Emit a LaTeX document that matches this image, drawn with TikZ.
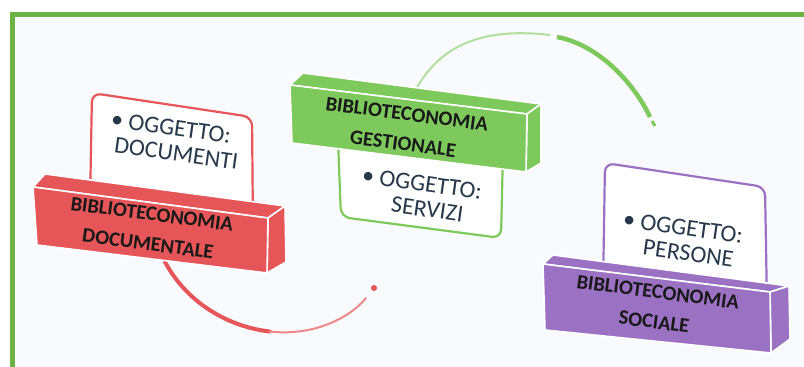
\documentclass[tikz,border=0pt]{standalone}
\usepackage{fontspec}
\setmainfont{Carlito}
\usetikzlibrary{calc}

\definecolor{frameGreen}{HTML}{6CB344}
\definecolor{paper}{HTML}{F9FAFD}
\definecolor{docRed}{HTML}{E65558}
\definecolor{gesGreen}{HTML}{7DC95C}
\definecolor{socPurple}{HTML}{9B72C3}
\definecolor{slate}{HTML}{27384A}

\tikzset{
    face/.style={fill=#1, draw=white, line width=1.6pt, line join=round},
    callout/.style={draw=#1, line width=2.2pt, fill=white, rounded corners=9pt},
    title/.style={font=\fontsize{20.5}{30}\selectfont\bfseries, text=black!90, align=center, rotate=-7.5, inner sep=0pt},
    object/.style={font=\fontsize{24}{25}\selectfont, text=slate, align=center, rotate=-8, inner sep=0pt}
}

\begin{document}
\begin{tikzpicture}[x=1pt, y=-1pt]
    \useasboundingbox (0,0) rectangle (804,367);
    % Background and frame
    \fill[white] (0,0) rectangle (804,367);
    \draw[frameGreen, line width=5pt, fill=paper] (12,14.5) rectangle (830,400);
    % Definitions
    \coordinate (docFTL) at (33,187);
    \coordinate (docFTR) at (268,218);
    \coordinate (docFBR) at (267,273);
    \coordinate (docFBL) at (37,245);
    \coordinate (docBTL) at (45,174);
    \coordinate (docBTR) at (285,206);
    \coordinate (docBBR) at (286,262);
    \coordinate (gesFTL) at (290,85);
    \coordinate (gesFTR) at (527,114);
    \coordinate (gesFBR) at (526,172);
    \coordinate (gesFBL) at (292,143);
    \coordinate (gesBTL) at (303,73);
    \coordinate (gesBTR) at (541,104);
    \coordinate (gesBBR) at (541,163);
    \coordinate (socFTL) at (543,264);
    \coordinate (socFTR) at (770,292);
    \coordinate (socFBR) at (771,353);
    \coordinate (socFBL) at (545,330);
    \coordinate (socBTL) at (553,255);
    \coordinate (socBTR) at (789,286);
    \coordinate (socBBR) at (790,339);
    \coordinate (docArcStart) at (165,262);
    \coordinate (docArcEnd)   at (374,288);
    \coordinate (gesArcStart) at (413,95);
    \coordinate (gesArcEnd)   at (650,117);
    % Arcs
    \draw[docRed, line width=4pt, line cap=round] (docArcStart) .. controls (187.5,303.5) and (228.75,326.75) .. (269.6,331.5);
    \draw[docRed!70, line width=2pt, line cap=round] (269.6,331.5) .. controls (310.5,336.25) and (348,320) .. (366,298);
    \fill[docRed] (docArcEnd) circle[radius=3pt];
    \draw[gesGreen!60, line width=2pt] (gesArcStart) .. controls (440,40) and (490,28) .. (550,35);
    \draw[gesGreen, line width=4.5pt] (557,37) .. controls (600,45) and (635,85) .. (gesArcEnd);
    \draw[gesGreen, line width=3pt] (652,121) -- (655,126);
    % Callouts
    \draw[callout=docRed]    (90,205) -- (92,93) -- (252,117) -- (253,230) -- cycle;
    \draw[callout=gesGreen]  (338,140) -- (341,217) -- (501,238) -- (503,150) -- cycle;
    \draw[callout=socPurple] (603,290) -- (605,163) -- (765,187) -- (767,305) -- cycle;
    % Boxes
    \draw[face=docRed] (docFTL) -- (docFTR) -- (docBTR) -- (docBTL) -- cycle;
    \draw[face=docRed] (docFTR) -- (docBTR) -- (docBBR) -- (docFBR) -- cycle;
    \draw[face=docRed] (docFTL) -- (docFTR) -- (docFBR) -- (docFBL) -- cycle;
    \draw[face=gesGreen] (gesFTL) -- (gesFTR) -- (gesBTR) -- (gesBTL) -- cycle;
    \draw[face=gesGreen] (gesFTR) -- (gesBTR) -- (gesBBR) -- (gesFBR) -- cycle;
    \draw[face=gesGreen] (gesFTL) -- (gesFTR) -- (gesFBR) -- (gesFBL) -- cycle;
    \draw[face=socPurple] (socFTL) -- (socFTR) -- (socBTR) -- (socBTL) -- cycle;
    \draw[face=socPurple] (socFTR) -- (socBTR) -- (socBBR) -- (socFBR) -- cycle;
    \draw[face=socPurple] (socFTL) -- (socFTR) -- (socFBR) -- (socFBL) -- cycle;
    % Texts
    \node[title] (docTitle) at (150,229) {BIBLIOTECONOMIA\\DOCUMENTALE};
    \node[title] (gesTitle) at (405,129) {BIBLIOTECONOMIA\\GESTIONALE};
    \node[title] (socTitle) at (656,307) {BIBLIOTECONOMIA\\SOCIALE};
    \node[object] (docObject) at (178,141) {\llap{\textbullet\ }OGGETTO:\\DOCUMENTI};
    \node[object] (gesObject) at (429,197) {\llap{\textbullet\ }OGGETTO:\\SERVIZI};
    \node[object] (socObject) at (690,241) {\llap{\textbullet\ }OGGETTO:\\PERSONE};
\end{tikzpicture}
\end{document}
